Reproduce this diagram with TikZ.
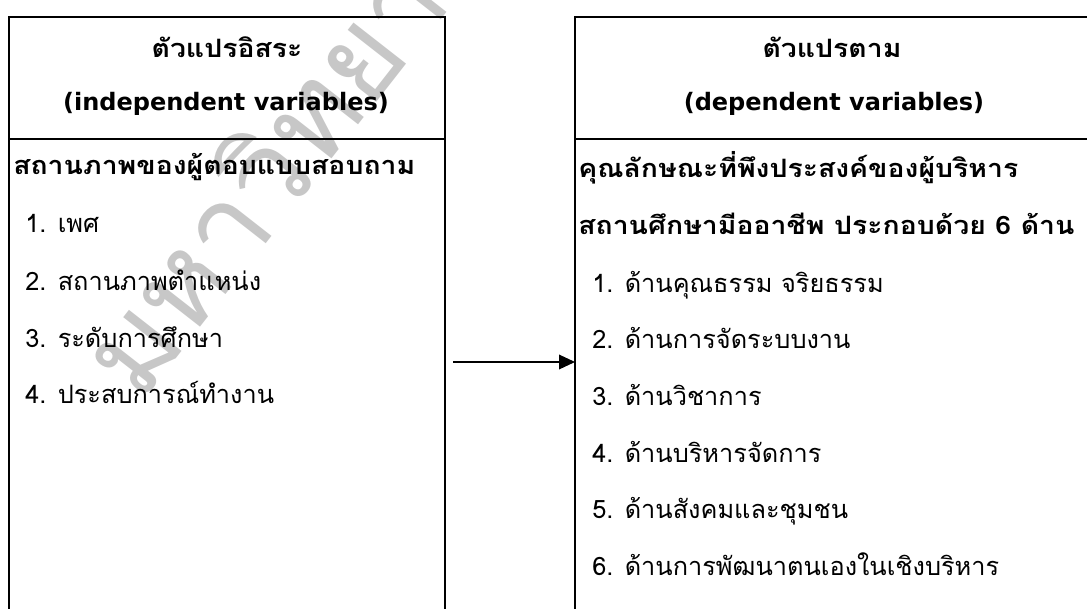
\documentclass[tikz,border=0pt]{standalone}
\usepackage{fontspec}
\setmainfont[Script=Thai, BoldFeatures={FakeStretch=1.12}]{Loma}
\newfontfamily\latinfont{DejaVu Sans}
\usetikzlibrary{arrows.meta}

\begin{document}
\begin{tikzpicture}[x=0.75pt,y=-0.75pt]
        \tikzstyle{every node}=[inner sep=0pt, font=\fontsize{19}{22}\selectfont]
        \tikzstyle{headtext}=[anchor=base, font=\fontsize{19}{22}\selectfont\bfseries]
        \tikzstyle{latintext}=[anchor=base, font=\fontsize{18}{22}\latinfont\bfseries]
        \tikzstyle{boldtext}=[anchor=base west, font=\fontsize{19}{22}\selectfont\bfseries]
        \tikzstyle{listtext}=[anchor=base west]
        \tikzstyle{boxline}=[line width=1.4pt]
        \useasboundingbox (0,0) rectangle (1087,609);
        \clip (0,0) rectangle (1087,609);
        \node[anchor=base west, rotate=52, text=black!22, font=\fontsize{90}{90}\selectfont] (mark) at (140,405) {มหาวิทยาลัยราชภัฏ};
        \draw[boxline] (9,650) -- (9,17) -- (445,17) -- (445,650);
        \draw[boxline] (9,139) -- (445,139);
        \draw[boxline] (1100,17) -- (575,17) -- (575,650);
        \draw[boxline] (575,139) -- (1100,139);
        \node[headtext] (indeptitle) at (227,58) {ตัวแปรอิสระ};
        \node[latintext] (indepsub) at (226,111) {(independent variables)};
        \node[boldtext] (indephead) at (13,175) {สถานภาพของผู้ตอบแบบสอบถาม};
        \node[listtext] (indep1) at (25,233) {1. เพศ};
        \node[listtext] (indep2) at (25,291) {2. สถานภาพตำแหน่ง};
        \node[listtext] (indep3) at (25,347) {3. ระดับการศึกษา};
        \node[listtext] (indep4) at (25,403) {4. ประสบการณ์ทำงาน};
        \node[headtext] (deptitle) at (832,58) {ตัวแปรตาม};
        \node[latintext] (depsub) at (834,111) {(dependent variables)};
        \node[boldtext] (dephead1) at (578,178) {คุณลักษณะที่พึงประสงค์ของผู้บริหาร};
        \node[boldtext] (dephead2) at (578,235) {สถานศึกษามีออาชีพ ประกอบด้วย 6 ด้าน};
        \node[listtext] (dep1) at (592,292) {1. ด้านคุณธรรม จริยธรรม};
        \node[listtext] (dep2) at (592,348) {2. ด้านการจัดระบบงาน};
        \node[listtext] (dep3) at (592,405) {3. ด้านวิชาการ};
        \node[listtext] (dep4) at (592,462) {4. ด้านบริหารจัดการ};
        \node[listtext] (dep5) at (592,518) {5. ด้านสังคมและชุมชน};
        \node[listtext] (dep6) at (592,575) {6. ด้านการพัฒนาตนเองในเชิงบริหาร};
        \coordinate (tail) at (453,362);
        \coordinate (depedge) at (575,362);
        \draw[line width=1pt, -{Triangle[length=12pt,width=11pt]}] (tail) -- (depedge);
    \end{tikzpicture}
\end{document}
